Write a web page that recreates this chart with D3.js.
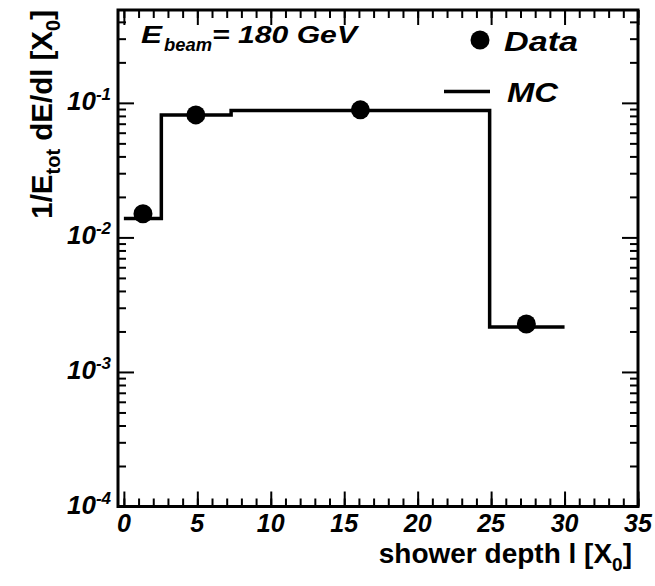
<!DOCTYPE html>
<html><head><meta charset="utf-8">
<script src="https://cdn.jsdelivr.net/npm/d3@7"></script>
<style>
body{margin:0;background:#fff;}
text{font-family:"Liberation Sans",Arial,Helvetica,sans-serif;font-weight:bold;}
</style></head>
<body>
<svg id="c" width="655" height="586"></svg>
<script>
// ---- data ----
const binEdges = [0, 2.55, 7.3, 24.9, 30.0];
const mcValues = [0.0138, 0.0814, 0.0877, 0.00216];
const dataX = [1.3, 4.9, 16.1, 27.4];
const dataY = [0.0150, 0.0814, 0.0887, 0.00227];
const xMajorTicks = [0, 5, 10, 15, 20, 25, 30, 35];
const yMajorExp = [-4, -3, -2, -1];
const xTitle = "shower depth l [X";
const yTitle = "1/E";

const L = 118, R = 638, T = 10, B = 506.5;
const svg = d3.select("#c");
const x = d3.scaleLinear().domain([-0.4, 35]).range([L, R]);
const y = d3.scaleLog().domain([1e-4, 0.49]).range([B, T]);

const xMinor = d3.range(0, 35.01, 1);
const yMinor = [];
yMajorExp.forEach(e => { for (let m = 2; m <= 9; m++) { const v = m * Math.pow(10, e); if (v <= 0.49) yMinor.push(v); } });
const yMajor = yMajorExp.map(e => Math.pow(10, e));

function styleAxis(g){ g.select(".domain").remove(); g.selectAll(".tick line").attr("stroke","#000").attr("stroke-width",2); g.selectAll(".tick text").remove(); }

svg.append("g").attr("transform",`translate(0,${B})`).call(d3.axisBottom(x).tickValues(xMinor).tickSize(-8).tickFormat("")).call(styleAxis);
svg.append("g").attr("transform",`translate(0,${B})`).call(d3.axisBottom(x).tickValues(xMajorTicks).tickSize(-15).tickFormat("")).call(styleAxis);
svg.append("g").attr("transform",`translate(0,${T})`).call(d3.axisTop(x).tickValues(xMinor).tickSize(-8).tickFormat("")).call(styleAxis);
svg.append("g").attr("transform",`translate(0,${T})`).call(d3.axisTop(x).tickValues(xMajorTicks).tickSize(-15).tickFormat("")).call(styleAxis);
svg.append("g").attr("transform",`translate(${L},0)`).call(d3.axisLeft(y).tickValues(yMinor).tickSize(-8).tickFormat("")).call(styleAxis);
svg.append("g").attr("transform",`translate(${L},0)`).call(d3.axisLeft(y).tickValues(yMajor).tickSize(-16).tickFormat("")).call(styleAxis);
svg.append("g").attr("transform",`translate(${R},0)`).call(d3.axisRight(y).tickValues(yMinor).tickSize(-8).tickFormat("")).call(styleAxis);
svg.append("g").attr("transform",`translate(${R},0)`).call(d3.axisRight(y).tickValues(yMajor).tickSize(-16).tickFormat("")).call(styleAxis);

svg.append("rect").attr("x",L).attr("y",T).attr("width",R-L).attr("height",B-T)
  .attr("fill","none").attr("stroke","#000").attr("stroke-width",3);

svg.append("g").selectAll("text").data(xMajorTicks).join("text")
  .attr("x", d => x(d)).attr("y", 532).attr("text-anchor","middle")
  .attr("font-size",25).attr("font-style","italic").text(d => d);

const yl = svg.append("g").selectAll("text").data(yMajorExp).join("text")
  .attr("x", 111).attr("y", d => y(Math.pow(10,d)) + 7).attr("text-anchor","end")
  .attr("font-size",26).attr("font-style","italic");
yl.append("tspan").text("10");
yl.append("tspan").attr("dy",-10).attr("font-size",17).text(d => d);

const stepPts = [];
mcValues.forEach((v,i) => { stepPts.push([binEdges[i], v]); stepPts.push([binEdges[i+1], v]); });
svg.append("path").datum(stepPts)
  .attr("d", d3.line().x(d => x(d[0])).y(d => y(d[1])))
  .attr("fill","none").attr("stroke","#000").attr("stroke-width",3.5);

svg.append("g").selectAll("circle").data(dataX.map((d,i)=>[d,dataY[i]])).join("circle")
  .attr("cx", d => x(d[0])).attr("cy", d => y(d[1])).attr("r", 9.5).attr("fill","#000");

// E_beam label
svg.append("text").attr("x",141).attr("y",43).attr("font-size",24).attr("font-style","italic")
  .attr("textLength",21).attr("lengthAdjust","spacingAndGlyphs").text("E");
svg.append("text").attr("x",164).attr("y",51).attr("font-size",18).attr("font-style","italic")
  .attr("textLength",48).attr("lengthAdjust","spacingAndGlyphs").text("beam");
svg.append("text").attr("x",212).attr("y",43).attr("font-size",24).attr("font-style","italic")
  .attr("textLength",145).attr("lengthAdjust","spacingAndGlyphs").text("= 180 GeV");

// legend
svg.append("circle").attr("cx",480).attr("cy",40).attr("r",9.5).attr("fill","#000");
svg.append("text").attr("x",504).attr("y",51).attr("font-size",27).attr("font-style","italic")
  .attr("textLength",74).attr("lengthAdjust","spacingAndGlyphs").text("Data");
svg.append("line").attr("x1",444).attr("x2",490).attr("y1",91.5).attr("y2",91.5).attr("stroke","#000").attr("stroke-width",3.5);
svg.append("text").attr("x",507).attr("y",101.5).attr("font-size",28).attr("font-style","italic")
  .attr("textLength",51).attr("lengthAdjust","spacingAndGlyphs").text("MC");

// x title
const xt = svg.append("text").attr("x",632).attr("y",563).attr("text-anchor","end").attr("font-size",28);
xt.append("tspan").text(xTitle);
xt.append("tspan").attr("dy",8).attr("font-size",19).text("0");
xt.append("tspan").attr("dy",-8).text("]");

// y title
const yt = svg.append("text").attr("transform","translate(52,10) rotate(-90)").attr("text-anchor","end").attr("font-size",29.5);
yt.append("tspan").text(yTitle);
yt.append("tspan").attr("dy",8).attr("font-size",20).text("tot");
yt.append("tspan").attr("dy",-8).text(" dE/dl [X");
yt.append("tspan").attr("dy",8).attr("font-size",20).text("0");
yt.append("tspan").attr("dy",-8).text("]");
</script>
</body></html>
